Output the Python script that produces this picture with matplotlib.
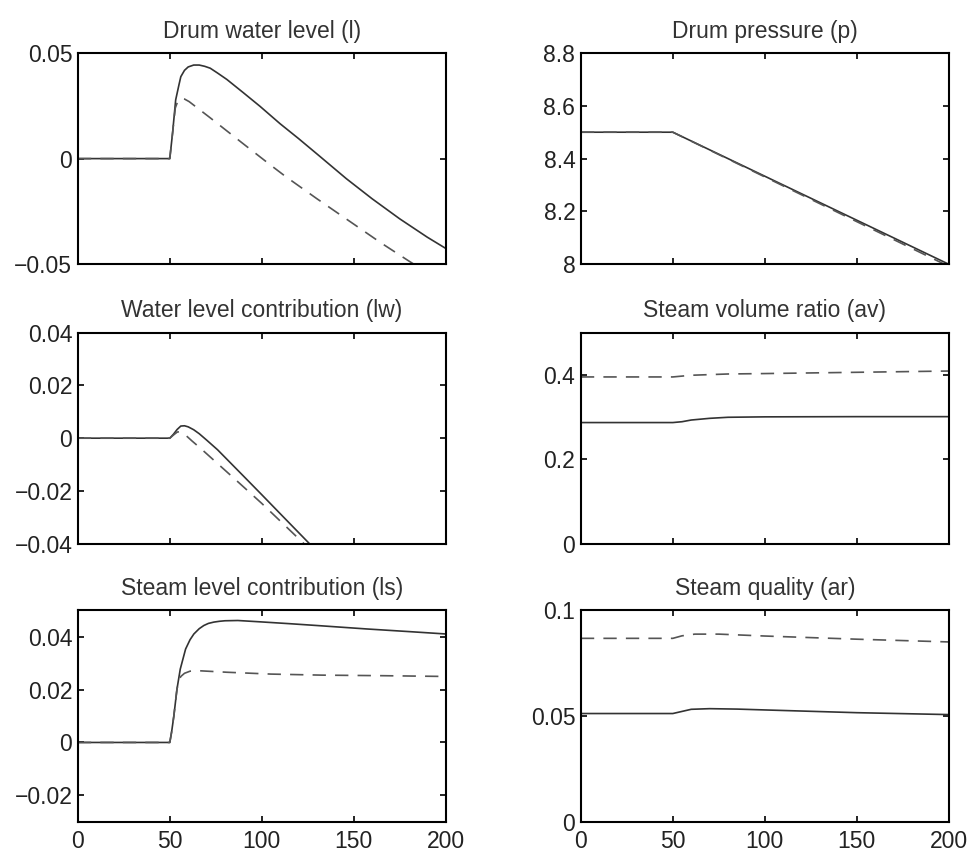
import matplotlib
matplotlib.use("Agg")
import matplotlib.pyplot as plt

plt.rcParams['font.family'] = ['Liberation Sans', 'DejaVu Sans']

# --- values (time in s) ---
# Drum water level (l)
l_t_solid = [0, 50, 51.5, 53.2, 55, 56, 58, 60, 63, 66, 69, 72, 76, 81, 90, 99,
             110, 120, 131, 146, 160, 175, 190, 200]
l_solid = [0, 0, 0.012, 0.0278, 0.035, 0.0388, 0.0418, 0.0434, 0.0443, 0.0443,
           0.0437, 0.0428, 0.0405, 0.0375, 0.0312, 0.0248, 0.0165, 0.0095,
           0.0015, -0.0095, -0.019, -0.0285, -0.0372, -0.0425]
l_t_dash = [0, 50, 51.5, 53, 54.5, 56, 58, 60.5, 72, 91, 105, 113, 130, 150,
            165, 180, 200]
l_dash = [0, 0, 0.012, 0.024, 0.0275, 0.0285, 0.0282, 0.0270, 0.0193, 0.0063,
          -0.0032, -0.0085, -0.0190, -0.0310, -0.0400, -0.0485, -0.0595]

# Drum pressure (p)
p_t_solid = [0, 50, 200]
p_solid = [8.5, 8.5, 8.0]
p_t_dash = [0, 50, 200]
p_dash = [8.5, 8.5, 7.992]

# Water level contribution (lw)
lw_t_solid = [0, 50, 52, 54, 56, 58, 60, 63, 66, 70, 76, 90, 100, 112, 126, 140]
lw_solid = [0, 0, 0.0015, 0.0033, 0.0046, 0.0047, 0.0043, 0.0032, 0.0017,
            -0.0007, -0.0044, -0.0143, -0.0214, -0.0300, -0.0400, -0.0500]
lw_t_dash = [0, 50, 52, 54, 55.5, 57, 59, 62, 67, 87, 100, 114, 123, 140]
lw_dash = [0, 0, 0.0012, 0.0023, 0.0025, 0.0019, 0.0009, -0.0010, -0.0040,
           -0.0165, -0.0247, -0.0340, -0.0400, -0.0510]

# Steam volume ratio (av)
av_t_solid = [0, 50, 55, 60, 70, 80, 100, 150, 200]
av_solid = [0.287, 0.287, 0.289, 0.293, 0.297, 0.2995, 0.3005, 0.301, 0.301]
av_t_dash = [0, 50, 60, 80, 100, 150, 200]
av_dash = [0.395, 0.395, 0.399, 0.402, 0.403, 0.406, 0.409]

# Steam level contribution (ls)
ls_t_solid = [0, 50, 51, 52.2, 53.9, 55.7, 58.6, 61, 63.1, 66, 68.5, 71, 74, 77,
              80, 87, 99, 115, 130, 157, 180, 200]
ls_solid = [0, 0, 0.004, 0.010, 0.0202, 0.0278, 0.0354, 0.0389, 0.0411, 0.0431,
            0.0443, 0.0451, 0.0456, 0.0459, 0.0461, 0.0462, 0.0457, 0.0450,
            0.0443, 0.0430, 0.0420, 0.0411]
ls_t_dash = [0, 50, 51, 52.2, 53.9, 55, 56, 58, 61, 65, 81, 105, 133, 165, 200]
ls_dash = [0, 0, 0.004, 0.010, 0.0202, 0.0235, 0.0250, 0.0262, 0.0270, 0.0272,
           0.0266, 0.0259, 0.0255, 0.0253, 0.0250]

# Steam quality (ar)
ar_t_solid = [0, 50, 55, 60, 70, 85, 100, 150, 200]
ar_solid = [0.0512, 0.0512, 0.0522, 0.0532, 0.0535, 0.0533, 0.0529, 0.0516, 0.0507]
ar_t_dash = [0, 50, 55, 62, 75, 100, 150, 200]
ar_dash = [0.0868, 0.0868, 0.0880, 0.0888, 0.0888, 0.0879, 0.0864, 0.0851]

titles = ["Drum water level (l)", "Drum pressure (p)",
          "Water level contribution (lw)", "Steam volume ratio (av)",
          "Steam level contribution (ls)", "Steam quality (ar)"]
x_ticks = [0, 50, 100, 150, 200]
x_ticklabels = ["0", "50", "100", "150", "200"]
y_limits = [(-0.05, 0.05), (8.0, 8.8), (-0.04, 0.04), (0, 0.5), (-0.03, 0.05), (0, 0.1)]
y_ticks = [[-0.05, 0, 0.05], [8.0, 8.2, 8.4, 8.6, 8.8],
           [-0.04, -0.02, 0, 0.02, 0.04], [0, 0.2, 0.4],
           [-0.02, 0, 0.02, 0.04], [0, 0.05, 0.1]]
y_ticklabels = [["\u22120.05", "0", "0.05"], ["8", "8.2", "8.4", "8.6", "8.8"],
                ["\u22120.04", "\u22120.02", "0", "0.02", "0.04"], ["0", "0.2", "0.4"],
                ["\u22120.02", "0", "0.02", "0.04"], ["0", "0.05", "0.1"]]

series = [(l_t_solid, l_solid, l_t_dash, l_dash),
          (p_t_solid, p_solid, p_t_dash, p_dash),
          (lw_t_solid, lw_solid, lw_t_dash, lw_dash),
          (av_t_solid, av_solid, av_t_dash, av_dash),
          (ls_t_solid, ls_solid, ls_t_dash, ls_dash),
          (ar_t_solid, ar_solid, ar_t_dash, ar_dash)]

fig = plt.figure(figsize=(9.73, 8.55), dpi=100)

# axes boxes in figure fractions
lefts = [0.080, 0.597]
bottoms = [0.691, 0.364, 0.039]
w, h = 0.378, 0.247

for i in range(6):
    row, col = divmod(i, 2)
    ax = fig.add_axes([lefts[col], bottoms[row], w, h])
    ts, vs, td, vd = series[i]
    ax.plot(ts, vs, color='#333333', lw=1.2, solid_joinstyle='round')
    ax.plot(td, vd, color='#555555', lw=1.2, dashes=(8, 5.5))

    ax.set_xlim(0, 200)
    ax.set_ylim(*y_limits[i])
    ax.set_xticks(x_ticks)
    if row == 2:
        ax.set_xticklabels(x_ticklabels)
    else:
        ax.set_xticklabels([])
    ax.set_yticks(y_ticks[i])
    ax.set_yticklabels(y_ticklabels[i])

    ax.tick_params(direction='in', top=True, right=True, length=4, width=1.2,
                   labelsize=16.5, labelcolor='#222222', pad=4)
    ax.tick_params(axis='x', pad=6)
    for s in ax.spines.values():
        s.set_linewidth(1.5)
    ax.set_title(titles[i], fontsize=16.5, color='#333333', pad=11)

fig.savefig("out.png", dpi=100)
